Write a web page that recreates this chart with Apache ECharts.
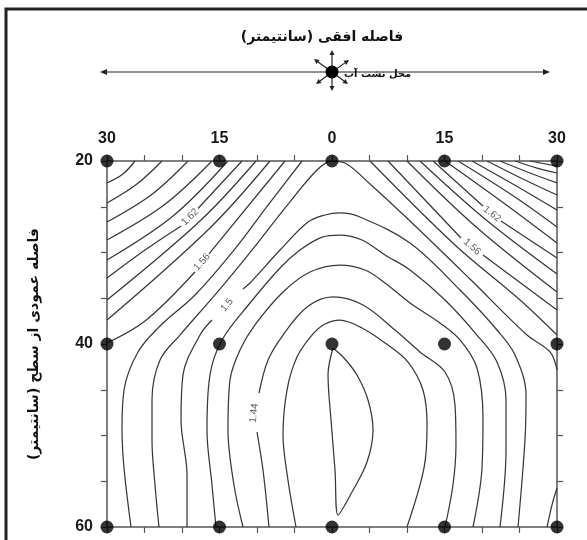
<!DOCTYPE html>
<html><head><meta charset="utf-8">
<script src="https://cdn.jsdelivr.net/npm/echarts@6/dist/echarts.min.js"></script>
<style>html,body{margin:0;padding:0;background:#fff}#c{width:587px;height:540px}</style>
</head><body><div id="c"></div>
<script>
// ---- data ----
const horizTicks = [-30, -15, 0, 15, 30];
const depthTicks = [20, 40, 60];
const sampleX = [-30, -15, 0, 15, 30];
const sampleDepth = [20, 40, 60];

// contour lines [horizontal cm, depth cm]; null = gap for a label
const c172L = [[-26.27,20],[-27.87,21.42],[-30,22.4]];
const c170L = [[-22.67,20],[-26.0,22.51],[-30,24.59]];
const c168L = [[-19.2,20],[-24.13,23.72],[-30,26.67]];
const c166L = [[-16.0,20],[-22.4,24.81],[-30,28.63]];
const c164L = [[-13.87,20],[-21.2,26.01],[-30,30.82]];
const c162L = [[-12.0,20],[-17.87,25.19],null,[-20.13,27.1],[-24.93,29.73],[-30,32.79]];
const c160L = [[-10.13,20],[-17.6,26.56],[-30,35.19]];
const c158L = [[-8.27,20],[-16.27,27.32],[-30,37.38]];
const c156L = [[-6.27,20],[-16.4,30.16],null,[-18.27,32.13],[-24.93,37.49],[-30,39.89]];
const c154L = [[-4.0,20],[-8.53,24.81],[-13.07,29.73],[-18.27,34.64],[-22.93,38.03],[-25.87,40.87],[-27.73,45.03],[-28.0,49.4],[-27.73,53.55],[-26.8,60]];
const c152 = [[-23.07,60],[-23.6,55.41],[-24.0,50.49],[-24.0,46.12],[-22.93,41.75],[-20.27,39.02],[-15.6,34.64],[-10.67,29.73],[-6.27,25.14],[-2.0,20.98],[0,20],[1.73,20.22],[5.07,22.51],[10.4,26.56],[18.4,32.9],[26.0,39.02],[29.07,40.87],[30,42.84]];
const c152C = [[28.67,60],[29.33,57.6],[30,55.74]];
const c150 = [[-19.33,60],[-19.33,54.32],[-20.13,48.31],[-19.87,43.39],[-17.6,39.02],[-16.0,37.38],null,[-11.87,33.99],[-10.93,33.33],[-6.93,29.73],[-3.2,26.67],[-0.93,25.9],[1.07,25.68],[3.73,26.12],[10.4,28.96],[17.07,34.1],[22.0,38.47],[24.4,41.2],[25.87,45.57],[25.73,50.49],[24.8,60]];
const c148 = [[-15.47,60],[-16.0,55.41],[-16.67,49.4],[-16.27,43.39],[-14.67,39.56],[-10.93,35.52],[-6.93,31.69],[-4.27,29.73],[-1.33,28.31],[1.07,28.09],[4.0,28.63],[7.07,30.27],[10.4,31.91],[15.07,35.19],[19.33,39.02],[22.0,41.97],[23.2,46.12],[23.2,51.58],[22.4,60]];
const c146 = [[-11.87,60],[-13.07,55.41],[-13.87,49.4],[-13.6,43.93],[-12.27,40.66],[-10.27,37.92],[-6.53,34.32],[-2.93,32.13],[1.07,31.37],[4.4,31.91],[7.07,33.33],[10.4,35.52],[14.4,37.7],[17.07,39.56],[19.33,42.62],[20.13,48.09],[20.0,53.55],[18.8,60]];
const c144 = [[-8.4,60],[-9.2,53.77],[-10.0,49.62],null,[-9.73,45.36],[-8.53,41.75],[-6.53,39.02],[-3.33,35.96],[0.13,34.86],[4.13,35.74],[8.4,38.47],[11.73,40.87],[15.07,43.06],[16.4,46.67],[16.53,51.04],[16.13,55.41],[15.07,60]];
const c142 = [[-4.8,60],[-5.87,54.86],[-6.53,49.95],[-6.0,45.03],[-4.67,41.42],[-2.67,39.02],[-0.93,37.81],[1.07,37.38],[4.0,38.25],[7.07,39.89],[10.13,41.97],[12.13,45.03],[12.67,48.85],[12.27,53.55],[10.0,60]];
const c140 = [[0.13,40.44],[1.6,41.53],[3.33,43.39],[4.8,46.12],[5.47,49.4],[4.67,52.9],[2.67,56.17],[0.8,58.69],[0.4,53.77],[-0.13,48.31],[-0.53,43.39],[0.13,40.44]];
const c154R = [[5.07,20],[16.4,29.18],[25.07,35.19],[30,39.02]];
const c156R = [[7.47,20],[17.2,28.42],null,[20.13,30.27],[30,36.28]];
const c158R = [[10.0,20],[19.07,27.1],[30,34.32]];
const c160R = [[11.73,20],[20.4,26.34],[30,32.35]];
const c162R = [[13.47,20],[20.13,24.92],null,[22.53,26.56],[30,30.6]];
const c164R = [[15.07,20],[23.07,24.7],[30,28.96]];
const c166R = [[16.8,20],[24.0,23.72],[30,27.21]];
const c168R = [[18.67,20],[24.8,22.84],[30,25.36]];
const c170R = [[20.67,20],[25.73,22.08],[30,23.72]];
const c172R = [[22.4,20],[26.4,21.31],[30,22.4]];
const c174R = [[24.4,20],[27.33,20.77],[30,21.31]];
const c176R = [[26.4,20],[30,20.55]];

const contours = [
  [1.72,c172L],[1.70,c170L],[1.68,c168L],[1.66,c166L],[1.64,c164L],[1.62,c162L],[1.60,c160L],[1.58,c158L],[1.56,c156L],[1.54,c154L],
  [1.52,c152],[1.52,c152C],[1.50,c150],[1.48,c148],[1.46,c146],[1.44,c144],[1.42,c142],[1.40,c140],
  [1.54,c154R],[1.56,c156R],[1.58,c158R],[1.60,c160R],[1.62,c162R],[1.64,c164R],[1.66,c166R],[1.68,c168R],[1.70,c170R],[1.72,c172R],[1.74,c174R],[1.76,c176R]
];
const contourLabels = [[-18.93,26.12,'1.62'],[-17.33,31.04,'1.56'],[-14.0,35.74,'1.5'],[-10.4,47.54,'1.44'],[21.33,25.79,'1.62'],[18.67,29.4,'1.56']];
const labelAngles = [45, 48, 50, 84, -38, -42];

const titleTop = 'فاصله افقی (سانتیمتر)';
const titleLeft = 'فاصله عمودی از سطح (سانتیمتر)';
const sourceText = 'محل نشت آب';

// ---- chart ----
const chart = echarts.init(document.getElementById('c'));
const axisCol = '#555';
const lineCol = '#383838';

const series = contours.map(([lvl, pts]) => ({
  type: 'line', name: String(lvl), xAxisIndex: 0, yAxisIndex: 0,
  data: pts.map(p => p === null ? ['-', '-'] : p),
  smooth: 0.35, showSymbol: false, symbol: 'none', connectNulls: false, silent: true,
  lineStyle: { color: lineCol, width: 1.25 }, z: 3, animation: false
}));
series.push({
  type: 'scatter', xAxisIndex: 0, yAxisIndex: 0, silent: true, animation: false,
  symbolSize: 2, itemStyle: { color: 'rgba(255,255,255,0)' }, z: 4,
  data: contourLabels.map((l, i) => ({
    value: [l[0], l[1]], name: l[2],
    label: { show: true, position: 'inside', formatter: l[2], rotate: labelAngles[i],
      fontSize: 10, color: '#333', fontFamily: 'Liberation Sans' }
  }))
});
const pts = [];
sampleDepth.forEach(d => sampleX.forEach(x => pts.push([x, d])));
series.push({
  type: 'scatter', xAxisIndex: 0, yAxisIndex: 0, data: pts, symbolSize: 13,
  itemStyle: { color: '#000' }, clip: false, z: 10, silent: true, animation: false
});

function arrowGraphic(x1, y1, x2, y2, head, w) {
  const ang = Math.atan2(y2 - y1, x2 - x1);
  const bx = x2 - head * Math.cos(ang), by = y2 - head * Math.sin(ang);
  const px = -Math.sin(ang) * w, py = Math.cos(ang) * w;
  return [
    { type: 'line', shape: { x1, y1, x2: bx, y2: by }, style: { stroke: '#222', lineWidth: 1.2 }, silent: true },
    { type: 'polygon', shape: { points: [[x2, y2], [bx + px, by + py], [bx - px, by - py]] }, style: { fill: '#222' }, silent: true }
  ];
}
const cx = 332, cy = 72;
let graphics = [
  { type: 'rect', shape: { x: 6, y: 9, width: 640, height: 600 }, style: { fill: 'none', stroke: '#222', lineWidth: 3 }, silent: true },
  { type: 'text', style: { text: titleTop, x: 322, y: 37, font: 'bold 14px "DejaVu Sans"', textAlign: 'center', textVerticalAlign: 'middle', fill: '#111' }, silent: true },
  { type: 'text', style: { text: sourceText, x: 344, y: 74, font: 'bold 10px "DejaVu Sans"', textAlign: 'left', textVerticalAlign: 'middle', fill: '#111' }, silent: true, z: 5 }
];
graphics = graphics.concat(arrowGraphic(cx, cy, 100, cy, 7, 3));
graphics = graphics.concat(arrowGraphic(cx, cy, 550, cy, 7, 3));
[[0, -22], [0, 19], [-18, -13], [17, -12], [-16, 12], [16, 12]].forEach(([dx, dy]) => {
  graphics = graphics.concat(arrowGraphic(cx, cy, cx + dx, cy + dy, 5, 2.5));
});
graphics.push({ type: 'circle', shape: { cx, cy, r: 6.5 }, style: { fill: '#000' }, silent: true, z: 10 });

const xFmt = v => horizTicks.includes(v) ? String(Math.abs(v)) : '';
const yFmt = v => depthTicks.includes(v) ? String(v) : '';
const tickLabelStyle = { fontSize: 16, fontWeight: 'bold', color: '#1a1a1a', fontFamily: 'Liberation Sans' };
const axisLineStyle = { show: true, onZero: false, lineStyle: { color: axisCol, width: 1.5 } };
const axisTickStyle = { show: true, length: 6, lineStyle: { color: axisCol, width: 1.2 } };

chart.setOption({
  animation: false,
  backgroundColor: '#fff',
  grid: { left: 107, right: 30, top: 161, bottom: 13 },
  xAxis: [
    { type: 'value', position: 'top', min: -30, max: 30, interval: 5,
      axisLine: axisLineStyle, axisTick: axisTickStyle,
      axisLabel: Object.assign({ formatter: xFmt, margin: 14 }, tickLabelStyle),
      splitLine: { show: false } },
    { type: 'value', position: 'bottom', min: -30, max: 30, interval: 5,
      axisLine: axisLineStyle, axisTick: axisTickStyle,
      axisLabel: { show: false }, splitLine: { show: false } }
  ],
  yAxis: [
    { type: 'value', position: 'left', inverse: true, min: 20, max: 60, interval: 5,
      axisLine: axisLineStyle, axisTick: axisTickStyle,
      axisLabel: Object.assign({ formatter: yFmt, margin: 14 }, tickLabelStyle),
      splitLine: { show: false },
      name: titleLeft, nameLocation: 'middle', nameGap: 66, nameRotate: 90,
      nameTextStyle: { fontSize: 14, fontWeight: 'bold', color: '#111', fontFamily: 'DejaVu Sans' } },
    { type: 'value', position: 'right', inverse: true, min: 20, max: 60, interval: 5,
      axisLine: axisLineStyle, axisTick: axisTickStyle,
      axisLabel: { show: false }, splitLine: { show: false } }
  ],
  series,
  graphic: graphics
});
</script></body></html>
